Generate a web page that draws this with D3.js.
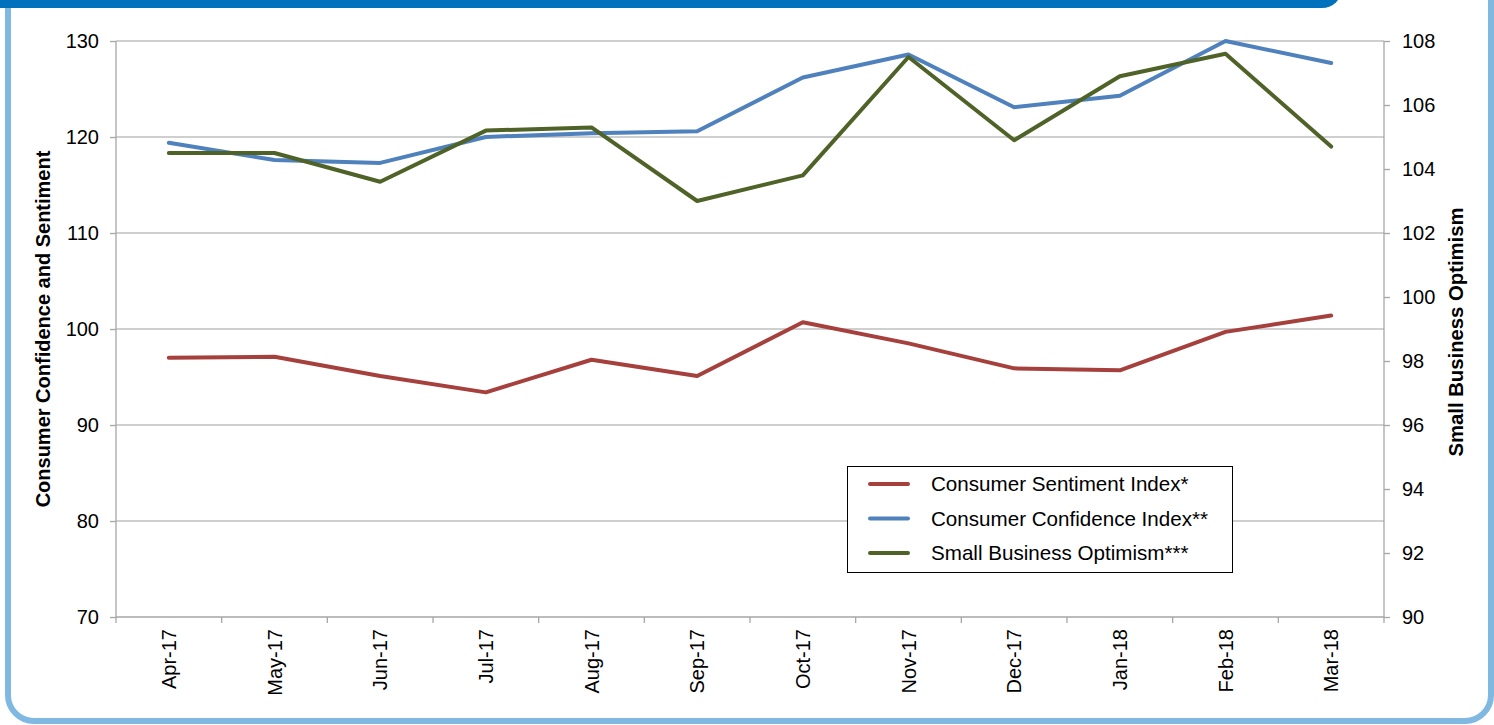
<!DOCTYPE html>
<html>
<head>
<meta charset="utf-8">
<script src="https://cdn.jsdelivr.net/npm/d3@7/dist/d3.min.js"></script>
<style>
  html, body { margin: 0; padding: 0; background: #fff; }
  svg { display: block; font-family: "Liberation Sans", Arial, sans-serif; }
</style>
</head>
<body>
<svg id="chart" width="1494" height="725"></svg>
<script>
const months = ["Apr-17","May-17","Jun-17","Jul-17","Aug-17","Sep-17","Oct-17","Nov-17","Dec-17","Jan-18","Feb-18","Mar-18"];
const sentiment = [97.0, 97.1, 95.1, 93.4, 96.8, 95.1, 100.7, 98.5, 95.9, 95.7, 99.7, 101.4];
const confidence = [119.4, 117.6, 117.3, 120.0, 120.4, 120.6, 126.2, 128.6, 123.1, 124.3, 130.0, 127.7];
const optimism = [104.5, 104.5, 103.6, 105.2, 105.3, 103.0, 103.8, 107.5, 104.9, 106.9, 107.6, 104.7];
const leftTicks = [70, 80, 90, 100, 110, 120, 130];
const rightTicks = [90, 92, 94, 96, 98, 100, 102, 104, 106, 108];
const seriesNames = ["Consumer Sentiment Index*", "Consumer Confidence Index**", "Small Business Optimism***"];
const seriesColors = ["#A5403D", "#4F81BD", "#4F6228"];

const svg = d3.select("#chart");

// frame
svg.append("rect").attr("x", 8).attr("y", -40).attr("width", 1483).attr("height", 761)
  .attr("rx", 26).attr("ry", 26).attr("fill", "#fff").attr("stroke", "#7FB8E1").attr("stroke-width", 6);
// header bar
svg.append("rect").attr("x", -30).attr("y", -40).attr("width", 1372).attr("height", 48)
  .attr("rx", 20).attr("ry", 20).attr("fill", "#0071BD");

const L = 116, R = 1384, T = 41, B = 617;
const x = d3.scaleBand().domain(months).range([L, R]).padding(0);
const yL = d3.scaleLinear().domain([70, 130]).range([B, T]);
const yR = d3.scaleLinear().domain([90, 108]).range([B, T]);

const gridColor = "#BFBFBF", axisColor = "#A6A6A6";

// gridlines
svg.append("g").selectAll("line").data(leftTicks.filter(d => d !== 70)).join("line")
  .attr("x1", L).attr("x2", R).attr("y1", d => yL(d)).attr("y2", d => yL(d))
  .attr("stroke", gridColor).attr("stroke-width", 1.3);

// left axis
const gLeft = svg.append("g").attr("transform", `translate(${L},0)`)
  .call(d3.axisLeft(yL).tickValues(leftTicks).tickSize(6).tickPadding(11).tickFormat(d3.format("d")));
// right axis
const gRight = svg.append("g").attr("transform", `translate(${R},0)`)
  .call(d3.axisRight(yR).tickValues(rightTicks).tickSize(6).tickPadding(12).tickFormat(d3.format("d")));
// bottom axis (ticks drawn at category boundaries below)
const gBottom = svg.append("g").attr("transform", `translate(0,${B})`)
  .call(d3.axisBottom(x).tickSize(0).tickPadding(0));
gBottom.selectAll(".tick text").remove();

[gLeft, gRight, gBottom].forEach(g => {
  g.select(".domain").attr("stroke", axisColor).attr("stroke-width", 1.3);
  g.selectAll(".tick line").attr("stroke", axisColor).attr("stroke-width", 1.3);
  g.selectAll(".tick text").attr("font-size", 20).attr("fill", "#000")
    .attr("font-family", "'Liberation Sans', Arial, sans-serif");
});
gLeft.select(".domain").attr("d", `M0,${B}V${T}`);
gRight.select(".domain").attr("d", `M0,${B}V${T}`);
gBottom.select(".domain").attr("d", `M${L},0H${R}`);

// boundary ticks on x axis
const bounds = months.map(m => x(m)).concat([R]);
svg.append("g").selectAll("line").data(bounds).join("line")
  .attr("x1", d => d).attr("x2", d => d).attr("y1", B).attr("y2", B + 6)
  .attr("stroke", axisColor).attr("stroke-width", 1.3);

// x labels rotated
svg.append("g").selectAll("text").data(months).join("text")
  .attr("transform", d => `translate(${x(d) + x.bandwidth() / 2},${B + 12}) rotate(-90)`)
  .attr("text-anchor", "end").attr("dy", "0.35em")
  .attr("font-size", 20).attr("fill", "#000").text(d => d);

// axis titles
svg.append("text").attr("transform", `translate(50,${(T + B) / 2}) rotate(-90)`)
  .attr("text-anchor", "middle").attr("font-size", 20).attr("font-weight", "bold")
  .text("Consumer Confidence and Sentiment");
svg.append("text").attr("transform", `translate(1463,${(T + B) / 2 + 3}) rotate(-90)`)
  .attr("text-anchor", "middle").attr("font-size", 20.3).attr("font-weight", "bold")
  .text("Small Business Optimism");

// lines
const cx = m => x(m) + x.bandwidth() / 2;
const lineL = d3.line().x((d, i) => cx(months[i])).y(d => yL(d));
const lineR = d3.line().x((d, i) => cx(months[i])).y(d => yR(d));
const seriesData = [
  { vals: sentiment, gen: lineL },
  { vals: confidence, gen: lineL },
  { vals: optimism, gen: lineR }
];
seriesData.forEach((s, k) => {
  svg.append("path").datum(s.vals).attr("d", s.gen)
    .attr("fill", "none").attr("stroke", seriesColors[k]).attr("stroke-width", 4)
    .attr("stroke-linejoin", "round").attr("stroke-linecap", "round");
});

// legend
const lg = svg.append("g");
lg.append("rect").attr("x", 847.5).attr("y", 466.5).attr("width", 385).attr("height", 106)
  .attr("fill", "#fff").attr("stroke", "#000").attr("stroke-width", 1);
seriesNames.forEach((n, i) => {
  const yy = 484 + i * 34.5;
  lg.append("line").attr("x1", 870).attr("x2", 908).attr("y1", yy).attr("y2", yy)
    .attr("stroke", seriesColors[i]).attr("stroke-width", 4).attr("stroke-linecap", "round");
  lg.append("text").attr("x", 931).attr("y", yy).attr("dy", "0.35em")
    .attr("font-size", 20.6).attr("fill", "#000").text(n);
});
</script>
</body>
</html>
